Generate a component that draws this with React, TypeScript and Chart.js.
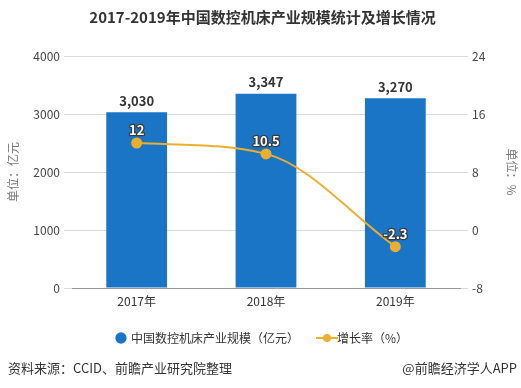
import React, { useEffect, useRef } from "react";
import { Chart, registerables } from "chart.js";

Chart.register(...registerables);

const categories = ["2017年", "2018年", "2019年"];
const scaleValues = [3030, 3347, 3270];
const growthValues = [12, 10.5, -2.3];
const barLabels = ["3,030", "3,347", "3,270"];
const growthLabels = ["12", "10.5", "-2.3"];
const seriesNames = ["中国数控机床产业规模（亿元）", "增长率（%）"];

const BLUE = "#1A75C6";
const ORANGE = "#EDAE2E";
const FONT = "'Noto Sans CJK SC', 'Noto Sans', sans-serif";

const labelPlugin = {
  id: "valueLabels",
  afterDatasetsDraw(chart: any) {
    const ctx = chart.ctx;
    ctx.save();
    const barMeta = chart.getDatasetMeta(0);
    ctx.textAlign = "center";
    ctx.textBaseline = "bottom";
    ctx.font = `bold 13px ${FONT}`;
    ctx.fillStyle = "#333333";
    barMeta.data.forEach((el: any, i: number) => {
      ctx.fillText(barLabels[i], el.x, el.y - 5);
    });
    const lineMeta = chart.getDatasetMeta(1);
    ctx.font = `bold 13px ${FONT}`;
    ctx.lineWidth = 2.5;
    ctx.strokeStyle = "#3a3a3a";
    ctx.fillStyle = "#ffffff";
    ctx.lineJoin = "round";
    lineMeta.data.forEach((el: any, i: number) => {
      ctx.strokeText(growthLabels[i], el.x, el.y - 6);
      ctx.fillText(growthLabels[i], el.x, el.y - 6);
    });
    ctx.restore();
  },
};

function makeLineIcon() {
  const c = document.createElement("canvas");
  c.width = 22;
  c.height = 10;
  const g = c.getContext("2d")!;
  g.strokeStyle = ORANGE;
  g.lineWidth = 2;
  g.beginPath();
  g.moveTo(0, 5);
  g.lineTo(22, 5);
  g.stroke();
  g.fillStyle = ORANGE;
  g.beginPath();
  g.arc(11, 5, 4, 0, Math.PI * 2);
  g.fill();
  return c;
}

export default function App() {
  const ref = useRef<HTMLCanvasElement>(null);
  useEffect(() => {
    const icon = makeLineIcon();
    const chart = new Chart(ref.current!, {
      type: "bar",
      data: {
        labels: categories,
        datasets: [
          {
            type: "bar",
            label: seriesNames[0],
            data: scaleValues,
            backgroundColor: BLUE,
            yAxisID: "y",
            barPercentage: 0.94,
            categoryPercentage: 0.5,
            order: 2,
          } as any,
          {
            type: "line",
            label: seriesNames[1],
            data: growthValues,
            borderColor: ORANGE,
            backgroundColor: ORANGE,
            borderWidth: 2,
            pointRadius: 4.5,
            pointBackgroundColor: ORANGE,
            pointBorderColor: ORANGE,
            cubicInterpolationMode: "monotone",
            yAxisID: "y1",
            order: 1,
          } as any,
        ],
      },
      options: {
        responsive: false,
        animation: false,
        layout: { padding: { top: 0, bottom: 34, left: 6, right: 2 } },
        plugins: {
          title: {
            display: true,
            text: "2017-2019年中国数控机床产业规模统计及增长情况",
            color: "#333333",
            font: { family: FONT, size: 15, weight: "bold" },
            padding: { top: 8, bottom: 30 },
          },
          legend: {
            position: "bottom",
            labels: {
              usePointStyle: true,
              boxWidth: 8,
              boxHeight: 8,
              color: "#333333",
              font: { family: FONT, size: 12 },
              padding: 24,
              generateLabels() {
                return [
                  {
                    text: seriesNames[0],
                    fillStyle: BLUE,
                    strokeStyle: BLUE,
                    lineWidth: 0,
                    pointStyle: "circle",
                    datasetIndex: 0,
                    hidden: false,
                    fontColor: "#333333",
                  },
                  {
                    text: seriesNames[1],
                    fillStyle: ORANGE,
                    strokeStyle: ORANGE,
                    lineWidth: 0,
                    pointStyle: icon,
                    datasetIndex: 1,
                    hidden: false,
                    fontColor: "#333333",
                  },
                ] as any;
              },
            },
          },
          tooltip: { enabled: false },
        },
        scales: {
          x: {
            clip: false,
            grid: { display: false, tickLength: 0 },
            border: { display: true, color: "#999999" },
            ticks: { color: "#333333", font: { family: FONT, size: 12 }, padding: 6 },
            afterFit(scale: any) {
              scale.height = 20;
            },
          } as any,
          y: {
            position: "left",
            min: 0,
            max: 4000,
            ticks: {
              stepSize: 1000,
              color: "#444444",
              font: { family: FONT, size: 12 },
              padding: 4,
              callback: (v: any) => String(v),
            },
            grid: { color: "#D9D9D9", tickLength: 8 },
            border: { display: false },
            title: {
              display: true,
              text: "单位：亿元",
              color: "#777777",
              font: { family: FONT, size: 12 },
              padding: 0,
            },
            afterFit(scale: any) {
              scale.width = 66;
            },
          },
          y1: {
            position: "right",
            min: -8,
            max: 24,
            ticks: {
              stepSize: 8,
              color: "#444444",
              font: { family: FONT, size: 12 },
              padding: 4,
              callback: (v: any) => String(v),
            },
            grid: { drawOnChartArea: false, color: "#D9D9D9", tickLength: 8 },
            border: { display: false },
            title: {
              display: true,
              text: "单位：%",
              color: "#777777",
              font: { family: FONT, size: 12 },
              padding: 0,
            },
            afterFit(scale: any) {
              scale.width = 59;
            },
          },
        },
      },
      plugins: [labelPlugin],
    });
    return () => chart.destroy();
  }, []);

  return (
    <div style={{ position: "absolute", left: 0, top: 0, width: 521, height: 388, background: "#fff", fontFamily: FONT }}>
      <canvas ref={ref} width={521} height={388} style={{ display: "block" }} />
      <div style={{ position: "absolute", left: 8, top: 358, fontSize: 13, color: "#333" }}>
        资料来源：CCID、前瞻产业研究院整理
      </div>
      <div style={{ position: "absolute", right: 4, top: 358, fontSize: 13, color: "#333" }}>
        @前瞻经济学人APP
      </div>
    </div>
  );
}
